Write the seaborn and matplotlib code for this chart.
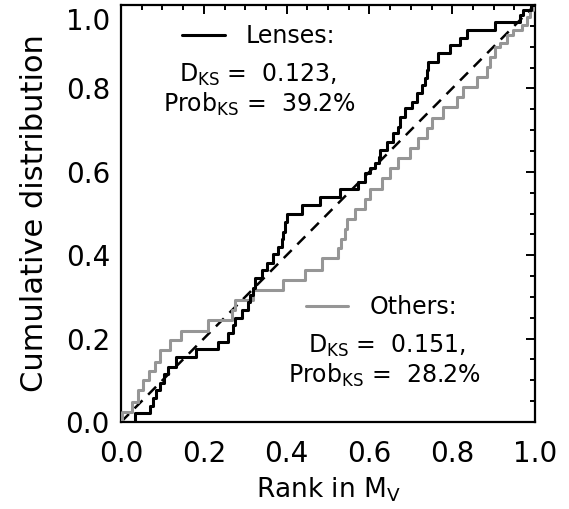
import numpy as np
import pandas as pd
import matplotlib
matplotlib.use("Agg")
import matplotlib.pyplot as plt
from matplotlib.ticker import MultipleLocator
from matplotlib.transforms import ScaledTranslation
import seaborn as sns

# ---- data (step positions and cumulative levels) ----
lens_rank = [0.000, 0.034, 0.070, 0.078, 0.085, 0.094, 0.104, 0.114, 0.133, 0.181,
             0.235, 0.259, 0.271, 0.275, 0.292, 0.307, 0.312, 0.320, 0.324, 0.340,
             0.352, 0.368, 0.380, 0.388, 0.392, 0.396, 0.400, 0.436, 0.481, 0.529,
             0.573, 0.589, 0.601, 0.614, 0.622, 0.626, 0.642, 0.658, 0.670, 0.674,
             0.686, 0.702, 0.714, 0.726, 0.734, 0.740, 0.742, 0.766, 0.795, 0.819,
             0.836, 0.903, 0.964, 0.972, 0.990, 1.000]
lens_cum = [0.000, 0.021, 0.038, 0.057, 0.077, 0.093, 0.115, 0.133, 0.155, 0.174,
            0.193, 0.213, 0.233, 0.249, 0.268, 0.288, 0.305, 0.322, 0.345, 0.365,
            0.381, 0.403, 0.420, 0.440, 0.456, 0.480, 0.500, 0.520, 0.539, 0.558,
            0.576, 0.596, 0.608, 0.620, 0.636, 0.652, 0.672, 0.692, 0.708, 0.732,
            0.752, 0.768, 0.788, 0.808, 0.824, 0.844, 0.864, 0.884, 0.904, 0.922,
            0.940, 0.960, 0.976, 0.988, 1.000, 1.000]

other_rank = [0.000, 0.002, 0.027, 0.042, 0.054, 0.068, 0.082, 0.094, 0.118, 0.144,
              0.211, 0.267, 0.275, 0.320, 0.392, 0.444, 0.485, 0.525, 0.532, 0.540,
              0.547, 0.565, 0.589, 0.601, 0.630, 0.650, 0.670, 0.698, 0.718, 0.738,
              0.752, 0.778, 0.811, 0.827, 0.859, 0.883, 0.891, 0.903, 0.915, 0.932,
              0.948, 0.968, 0.980, 0.988, 0.996, 1.000]
other_cum = [0.000, 0.025, 0.049, 0.077, 0.100, 0.123, 0.145, 0.173, 0.197, 0.219,
             0.245, 0.269, 0.293, 0.317, 0.341, 0.365, 0.393, 0.417, 0.440, 0.464,
             0.488, 0.510, 0.534, 0.558, 0.584, 0.608, 0.632, 0.656, 0.680, 0.704,
             0.728, 0.756, 0.780, 0.804, 0.828, 0.852, 0.876, 0.900, 0.910, 0.928,
             0.940, 0.952, 0.972, 0.988, 1.000, 1.000]

diag = [0.0, 1.0]

tick_vals = [0.0, 0.2, 0.4, 0.6, 0.8, 1.0]
tick_labels = ["0.0", "0.2", "0.4", "0.6", "0.8", "1.0"]

lens_text = ["Lenses:", r"D$_{\rm KS}$ =  0.123,", r"Prob$_{\rm KS}$ =  39.2%"]
other_text = ["Others:", r"D$_{\rm KS}$ =  0.151,", r"Prob$_{\rm KS}$ =  28.2%"]

# ---- styling ----
sns.set_style("white")
plt.rcParams["font.family"] = ["DejaVu Sans"]
plt.rcParams["mathtext.fontset"] = "dejavusans"
for k in ["text.color", "axes.labelcolor", "xtick.color", "ytick.color"]:
    plt.rcParams[k] = "black"

fig = plt.figure(figsize=(5.69, 5.09), dpi=100)
ax = fig.add_axes([121 / 569, 1 - 422 / 509, (535 - 121) / 569, (422 - 5) / 509])

gray = "#969696"
lw = 2.2

df_l = pd.DataFrame({"rank": lens_rank, "cum": lens_cum})
df_o = pd.DataFrame({"rank": other_rank, "cum": other_cum})
df_d = pd.DataFrame({"rank": diag, "cum": diag})

sns.lineplot(data=df_d, x="rank", y="cum", ax=ax, color="black", lw=1.8,
             linestyle=(0, (4.5, 3.2)), zorder=2)
sns.lineplot(data=df_o, x="rank", y="cum", ax=ax, color=gray, lw=lw,
             drawstyle="steps-post", sort=False, zorder=3)
sns.lineplot(data=df_l, x="rank", y="cum", ax=ax, color="black", lw=lw,
             drawstyle="steps-post", sort=False, zorder=4)
lines = ax.get_lines()
line_o, line_l = lines[1], lines[2]

ax.set_xlim(0, 1)
ax.set_ylim(0, 1)
ax.set_xticks(tick_vals)
ax.set_xticklabels(tick_labels)
ax.set_yticks(tick_vals)
ax.set_yticklabels(tick_labels)
ax.xaxis.set_minor_locator(MultipleLocator(0.05))
ax.yaxis.set_minor_locator(MultipleLocator(0.05))
ax.tick_params(which="both", direction="in", top=True, right=True,
               colors="black", width=1.4)
ax.tick_params(which="major", length=6.5, labelsize=20)
ax.tick_params(which="minor", length=3.6)
ax.tick_params(axis="x", which="major", pad=13)
ax.tick_params(axis="y", which="major", pad=8)
for s in ax.spines.values():
    s.set_linewidth(1.6)
    s.set_color("black")

# top y label sits lower in the reference
ytl = ax.get_yticklabels()[-1]
ytl.set_transform(ytl.get_transform() + ScaledTranslation(0, -10 / 72, fig.dpi_scale_trans))

ax.set_xlabel(r"Rank in M$_{\rm V}$", fontsize=19, labelpad=5)
ax.set_ylabel("Cumulative distribution", fontsize=22, labelpad=12)

fs = 17
leg1 = ax.legend([line_l], [lens_text[0]], loc="center", bbox_to_anchor=(0.333, 0.926),
                 frameon=False, fontsize=fs, handlelength=1.8, handletextpad=0.9)
ax.add_artist(leg1)
leg2 = ax.legend([line_o], [other_text[0]], loc="center", bbox_to_anchor=(0.629, 0.276),
                 frameon=False, fontsize=fs, handlelength=1.8, handletextpad=0.9)

ax.text(0.331, 0.815, lens_text[1], transform=ax.transAxes, ha="center", va="baseline", fontsize=fs)
ax.text(0.333, 0.743, lens_text[2], transform=ax.transAxes, ha="center", va="baseline", fontsize=fs)
ax.text(0.641, 0.165, other_text[1], transform=ax.transAxes, ha="center", va="baseline", fontsize=fs)
ax.text(0.635, 0.0935, other_text[2], transform=ax.transAxes, ha="center", va="baseline", fontsize=fs)

fig.savefig("out.png", dpi=100)
